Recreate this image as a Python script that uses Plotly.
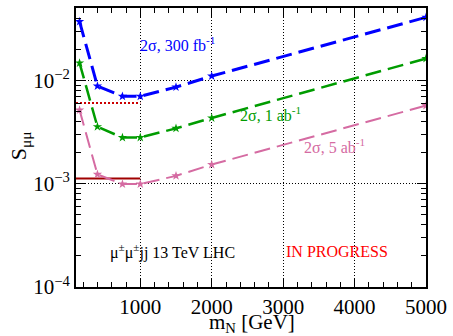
import plotly.graph_objects as go

# Heavy-neutrino mass points [GeV]
mass_gev = [150, 400, 750, 1000, 1500, 2000, 5000]

# 2-sigma sensitivity on S_mumu for three integrated luminosities
s_300fb = [0.037, 0.0088, 0.0070, 0.0070, 0.0086, 0.0110, 0.0407]
s_1ab = [0.0147, 0.00356, 0.00279, 0.0028, 0.00343, 0.00432, 0.01625]
s_5ab = [0.00515, 0.00123, 0.00099, 0.00099, 0.00119, 0.00153, 0.0057]

# Existing limits shown as horizontal reference lines (up to 1 TeV)
ref_x = [100, 1000]
ref_dotted = [0.00605, 0.00605]
ref_solid = [0.00112, 0.00112]

y_ticks = [1e-4, 1e-3, 1e-2]
y_ticktext = ["10<sup>\u22124</sup>", "10<sup>\u22123</sup>", "10<sup>\u22122</sup>"]
x_ticks = [1000, 2000, 3000, 4000, 5000]

# Minor tick positions: 2..9 within each decade, every 200 GeV in mass
y_minor = [m * 10.0 ** e for e in (-4, -3, -2) for m in range(2, 10)]
x_minor = list(range(200, 5001, 200))

BLUE = "#0000ff"
GREEN = "#009c00"
PINK = "#d56ba2"
FONT = "Liberation Serif, Times New Roman, serif"

fig = go.Figure()

fig.add_trace(go.Scatter(x=ref_x, y=ref_dotted, mode="lines",
                         line=dict(color="#cc0000", width=2, dash="2px,2px")))
fig.add_trace(go.Scatter(x=ref_x, y=ref_solid, mode="lines",
                         line=dict(color="#a00000", width=2)))

for ys, col, w in [(s_300fb, BLUE, 3), (s_1ab, GREEN, 2.5), (s_5ab, PINK, 2)]:
    fig.add_trace(go.Scatter(
        x=mass_gev, y=ys, mode="lines+markers",
        line=dict(color=col, width=w, dash="16px,7px"),
        marker=dict(symbol="star", size=7, color=col),
    ))

axis_common = dict(
    showline=True, linecolor="black", linewidth=2, mirror="allticks",
    ticks="inside", ticklen=9, tickwidth=1, tickcolor="black",
    showgrid=True, gridcolor="black", gridwidth=1, griddash="1px,2px",
    zeroline=False,
    tickfont=dict(family=FONT, size=21, color="black"),
)

fig.update_xaxes(
    range=[100, 5000], tickvals=x_ticks,
    minor=dict(ticks="inside", ticklen=5, tickcolor="black", tickvals=x_minor, showgrid=False),
    **axis_common,
)
fig.update_yaxes(
    type="log", range=[-4, -1.3], tickvals=y_ticks, ticktext=y_ticktext,
    minor=dict(ticks="inside", ticklen=5, tickcolor="black", tickvals=y_minor, showgrid=False),
    **axis_common,
)

fig.update_layout(
    width=453, height=336,
    margin=dict(l=76, r=25, t=6, b=49),
    paper_bgcolor="white", plot_bgcolor="white",
    showlegend=False,
    font=dict(family=FONT, color="black"),
)

plot_w = 453 - 76 - 25
plot_h = 336 - 6 - 49


def to_paper(px, py):
    return (px - 76) / plot_w, (336 - 49 - py) / plot_h


# In-plot labels given by page-pixel centre positions
labels = [
    (178, 42, "2\u03c3, 300 fb<sup>-1</sup>", BLUE),
    (272, 113, "2\u03c3, 1 ab<sup>-1</sup>", GREEN),
    (336, 145, "2\u03c3, 5 ab<sup>-1</sup>", PINK),
    (173, 251, "\u03bc<sup>\u00b1</sup>\u03bc<sup>\u00b1</sup>jj 13 TeV LHC", "black"),
    (338, 251, "IN PROGRESS", "#ff0000"),
]
ann = []
for px, py, text, col in labels:
    x, y = to_paper(px, py)
    ann.append(dict(x=x, y=y, xref="paper", yref="paper", xanchor="center",
                    yanchor="middle", showarrow=False, text=text,
                    font=dict(family=FONT, size=16, color=col)))

xt = to_paper(253, 323)
yt = to_paper(20, 145)
ann.append(dict(x=xt[0], y=xt[1], xref="paper", yref="paper", showarrow=False,
                text="m<sub>N</sub> [GeV]", xanchor="center", yanchor="middle",
                font=dict(family=FONT, size=21, color="black")))
ann.append(dict(x=yt[0], y=yt[1], xref="paper", yref="paper", showarrow=False,
                text="S<sub>\u03bc\u03bc</sub>", textangle=-90, xanchor="center",
                yanchor="middle", font=dict(family=FONT, size=22, color="black")))

fig.update_layout(annotations=ann)

fig.write_html("out.html")
